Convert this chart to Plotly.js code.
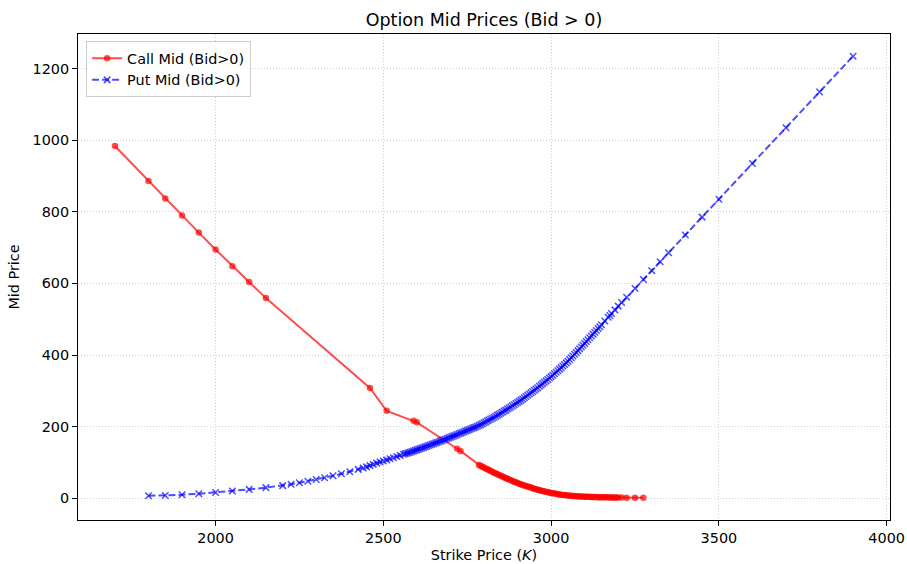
<!DOCTYPE html>
<html>
<head>
<meta charset="utf-8">
<script src="https://cdn.plot.ly/plotly-3.0.1.min.js"></script>
<style>html,body{margin:0;padding:0;background:#fff;}#chart{width:907px;height:564px;}</style>
</head>
<body>
<div id="chart"></div>
<script>
// ---- Data ----
const callStrikes = [
  1700,1800,1850,1900,1950,2000,2050,2100,2150,2460,2510,2590,2600,2720,2730,
  2785,2790,2795,2800,2805,2810,2815,2820,2825,2830,
  2835,2840,2845,2850,2855,2860,2865,2870,2875,2880,
  2885,2890,2895,2900,2905,2910,2915,2920,2925,2930,
  2935,2940,2945,2950,2955,2960,2965,2970,2975,2980,
  2985,2990,2995,3000,3005,3010,3015,3020,3025,3030,
  3035,3040,3045,3050,3055,3060,3065,3070,3075,3080,
  3085,3090,3095,3100,3105,3110,3115,3120,3125,3130,
  3135,3140,3145,3150,3155,3160,3165,3170,3175,3180,
  3185,3190,3195,3200,
  3210,3225,3250,3275
];
const callMid = [
  984,886,837,790,742,695,648,604,559,308,244,216,212,138,132,
  93,90.5,88,85.5,83,81,78.5,76,73.5,71,
  69,67,64.5,62.5,60.5,58.5,56,54,52,50,
  48,46,44.5,42.5,40.5,39,37,35.5,34,32.5,
  31,29.5,28,26.5,25,23.5,22.5,21,20,18.8,
  17.7,16.6,15.6,14.6,13.7,12.8,12,11.2,10.5,9.8,
  9.2,8.6,8.1,7.6,7.1,6.7,6.3,5.9,5.6,5.3,
  5,4.7,4.5,4.3,4.1,3.9,3.7,3.5,3.3,3.2,
  3.0,2.9,2.8,2.7,2.6,2.5,2.4,2.3,2.2,2.1,
  2.0,1.9,1.8,1.7,
  1.6,1.4,1.1,0.9
];
const putStrikes = [
  1800,1850,1900,1950,2000,2050,2100,2150,2200,2225,2250,2275,2300,2325,2350,2375,2400,2425,
  2440,2450,2460,2470,2480,2490,2500,2510,2520,2530,2540,2550,2560,
  2565,2570,2575,2580,2585,2590,2595,2600,2605,2610,
  2615,2620,2625,2630,2635,2640,2645,2650,2655,2660,
  2665,2670,2675,2680,2685,2690,2695,2700,2705,2710,
  2715,2720,2725,2730,2735,2740,2745,2750,2755,2760,
  2765,2770,2775,2780,2785,2790,2795,2800,2805,2810,
  2815,2820,2825,2830,2835,2840,2845,2850,2855,2860,
  2865,2870,2875,2880,2885,2890,2895,2900,2905,2910,
  2915,2920,2925,2930,2935,2940,2945,2950,2955,2960,
  2965,2970,2975,2980,2985,2990,2995,3000,3005,3010,
  3015,3020,3025,3030,3035,3040,3045,3050,3055,3060,
  3065,3070,3075,3080,3085,3090,3095,3100,3105,3110,
  3115,3120,3125,3130,3135,3140,3145,3150,
  3160,3170,3175,3180,3190,3200,3210,3225,3250,3275,3300,3325,3350,
  3400,3450,3500,3600,3700,3800,3900
];
const putMid = [
  6.5,7.5,9.5,12.5,16,20,24.5,29.5,35,39,43,47.5,52,57,62.5,68,74,80.5,
  84.5,87.5,91,94.5,98,101,104,107,110,113,116.5,119.5,122.5,
  124,125.5,127,128.5,130,132,133.5,135,136.7,138.4,
  140.1,141.8,143.5,145.2,147,148.7,150.5,152.2,154,155.8,
  157.6,159.4,161.2,163,164.8,166.6,168.4,170.2,172.1,174,
  176,177.9,179.8,181.7,183.7,185.6,187.5,189.5,191.4,193.3,
  195.2,197.2,199.1,201,203,205.5,208,210.5,213,216,
  218.5,221,223.5,226,229,232,234.5,237.5,240.5,243.5,
  246,249,252,255,258,261,264.5,267.5,270.5,274,
  277,280.5,284,287.5,291,294.5,298,301.5,305,308.5,
  312.5,316,320,323.8,327.7,331.6,335.6,339.6,343.7,347.8,
  352,356.2,360.5,364.8,369.2,373.6,378.1,382.6,387.4,392.4,
  397.3,402.2,407.3,412.3,417.3,422.4,427.5,432.6,437.8,442.9,
  448,453.2,458.3,463.5,468.7,473.9,479.1,484.4,
  494.8,505.3,510.5,515.8,526.2,536.7,546.5,561.3,586.1,610.9,635.7,660.6,685.5,
  735.4,785.3,835.2,935.1,1035,1135,1235
];
const xTicks = [2000,2500,3000,3500,4000];
const yTicks = [0,200,400,600,800,1000,1200];

const FONT = 'DejaVu Sans, Verdana, sans-serif';
const RED = 'rgba(255,0,0,0.7)';
const BLUE = 'rgba(0,0,255,0.7)';

const traces = [
  {
    x: callStrikes, y: callMid, type: 'scatter', mode: 'lines+markers',
    name: 'Call Mid (Bid>0)',
    line: {color: RED, width: 2},
    marker: {symbol: 'circle', size: 6.5, color: RED, line: {width: 0}}
  },
  {
    x: putStrikes, y: putMid, type: 'scatter', mode: 'lines+markers',
    name: 'Put Mid (Bid>0)',
    line: {color: BLUE, width: 2, dash: '7px,3px'},
    marker: {symbol: 'x-thin', size: 6.5, color: BLUE, line: {width: 1.5, color: BLUE}}
  }
];

const axisCommon = {
  showline: true, mirror: true, linecolor: '#000', linewidth: 1,
  ticks: 'outside', ticklen: 5, tickwidth: 1, tickcolor: '#000',
  showgrid: true, gridcolor: '#cfcfcf', griddash: '1px,2px', gridwidth: 1,
  zeroline: false, tickfont: {family: FONT, size: 14.4, color: '#000'}
};

const layout = {
  width: 907, height: 564,
  paper_bgcolor: '#fff', plot_bgcolor: '#fff',
  margin: {l: 78, r: 17, t: 34, b: 44},
  font: {family: FONT, color: '#000'},
  title: {text: 'Option Mid Prices (Bid > 0)', font: {family: FONT, size: 17.5, color: '#000'},
          x: 0.5, xref: 'paper', xanchor: 'center', y: 1 - 20/564, yref: 'container', yanchor: 'middle'},
  xaxis: Object.assign({}, axisCommon, {
    range: [1590, 4010], tickvals: xTicks, ticktext: xTicks.map(String),
    title: {text: 'Strike Price (<i>K</i>)', font: {family: FONT, size: 14.4, color: '#000'}, standoff: 4}
  }),
  yaxis: Object.assign({}, axisCommon, {
    range: [-61, 1297], tickvals: yTicks, ticktext: yTicks.map(String),
    title: {text: 'Mid Price', font: {family: FONT, size: 14.4, color: '#000'}, standoff: 9}
  }),
  showlegend: true,
  legend: {x: 0.01, y: 0.985, xanchor: 'left', yanchor: 'top',
           bgcolor: 'rgba(255,255,255,0.8)', bordercolor: '#cccccc', borderwidth: 1,
           font: {family: FONT, size: 14.4, color: '#000'}, tracegroupgap: 0}
};

Plotly.newPlot('chart', traces, layout, {displayModeBar: false, staticPlot: true});
</script>
</body>
</html>
